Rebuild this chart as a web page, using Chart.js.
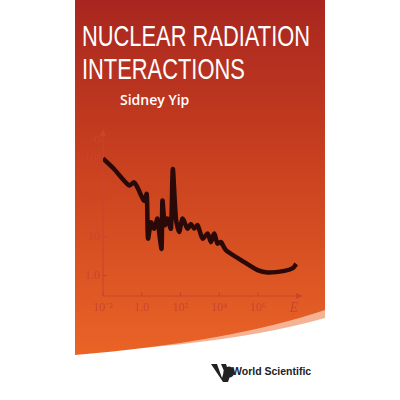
<!DOCTYPE html>
<html>
<head>
<meta charset="utf-8">
<script src="https://cdn.jsdelivr.net/npm/chart.js@4.4.1/dist/chart.umd.min.js"></script>
<style>
  html, body { margin: 0; padding: 0; background: #fff; }
  #page { position: relative; width: 400px; height: 400px; overflow: hidden; }
  #bg { position: absolute; left: 0; top: 0; }
  .t { position: absolute; color: #fff; white-space: nowrap; }
  #t1, #t2 { font-family: 'Liberation Sans', sans-serif; font-size: 29px; transform-origin: 0 0; }
  #t1 { left: 82px; top: 20px; }
  #t2 { left: 82px; top: 53px; }
  #author { left: 120px; top: 90px; font-family: 'Open Sans', sans-serif; font-weight: 600; font-size: 14px; }
  #ws { left: 232px; top: 365px; color: #222; font-family: 'Liberation Sans', sans-serif; font-weight: bold; font-size: 10.5px; }
  #c { position: absolute; left: 0; top: 0; }
</style>
</head>
<body>
<div id="page">
  <svg id="bg" width="400" height="400">
    <defs>
      <linearGradient id="g" x1="0" y1="0" x2="0" y2="1">
        <stop offset="0" stop-color="#a8261f"/>
        <stop offset="0.45" stop-color="#c8401f"/>
        <stop offset="1" stop-color="#ea6427"/>
      </linearGradient>
    </defs>
    <path d="M75,0 H325 V318 Q230,345 75,352 Z" fill="#f4b394"/>
    <path d="M75,0 H325 V310 Q230,342 75,355 Z" fill="url(#g)"/>
    <g transform="translate(211,362)" fill="#222">
      <path d="M0,2 L6,2 L11,16 L13,9 L10,2 L15,2 L19,14 L17,20 L12,20 Z"/>
      <circle cx="18" cy="10" r="5.5"/>
    </g>
  </svg>
  <div class="t" id="t1">NUCLEAR RADIATION</div>
  <div class="t" id="t2">INTERACTIONS</div>
  <div class="t" id="author">Sidney Yip</div>
  <div class="t" id="ws">World Scientific</div>
  <canvas id="c" width="400" height="400"></canvas>
</div>
<script>
// energy (E) and cross section (sigma)
const energy = [0.01, 0.037, 0.22, 0.40, 0.60, 1.3, 1.8, 2.1, 3.0, 4.4, 6.5, 7.9, 10.5, 11.7, 15.5, 21, 32, 40, 58, 85,
  126, 229, 339, 513, 759, 1380, 2510, 3720, 5500, 8130, 12300, 21900, 132000, 955000, 3.16e6, 2.29e7, 6.2e7, 9.3e7];
const sigma = [1000, 537, 204, 245, 182, 83, 123, 8.9, 23, 16, 29, 13, 4.9, 83, 19.5, 29, 16, 537, 29, 13,
  29, 16, 21, 16, 19.5, 8.9, 12, 7.2, 12, 6.6, 7.2, 4.5, 2.5, 1.38, 1.2, 1.32, 1.55, 2.0];
const xTicks = [0.01, 1, 100, 1e4, 1e6];
const xLabels = ['10⁻²', '1.0', '10²', '10⁴', '10⁶'];
const yTicks = [1, 10, 100, 1000];
const yLabels = ['1.0', '10', '10²', '10³'];

const axisColor = '#c9452f';

// squeeze the title to the narrow look of the cover
const t1 = document.getElementById('t1'), t2 = document.getElementById('t2');
const k = 228 / t1.getBoundingClientRect().width;
t1.style.transform = t2.style.transform = 'scaleX(' + k + ')';

const axesPlugin = {
    id: 'axes',
    beforeDatasetsDraw: function(chart) {
        const ctx = chart.ctx;
        const xs = chart.scales.x, ys = chart.scales.y;
        const a = chart.chartArea;
        ctx.save();
        ctx.strokeStyle = axisColor;
        ctx.fillStyle = axisColor;
        ctx.lineWidth = 1;
        ctx.beginPath();
        ctx.moveTo(a.left, a.bottom); ctx.lineTo(a.right, a.bottom);
        ctx.moveTo(a.left, a.bottom); ctx.lineTo(a.left, a.top);
        ctx.stroke();
        ctx.beginPath();
        ctx.moveTo(a.right + 4, a.bottom); ctx.lineTo(a.right - 3, a.bottom - 3); ctx.lineTo(a.right - 3, a.bottom + 3);
        ctx.closePath(); ctx.fill();
        ctx.beginPath();
        ctx.moveTo(a.left, a.top - 4); ctx.lineTo(a.left - 3, a.top + 3); ctx.lineTo(a.left + 3, a.top + 3);
        ctx.closePath(); ctx.fill();
        ctx.font = "12px 'Liberation Serif', serif";
        ctx.textAlign = 'center';
        ctx.textBaseline = 'top';
        xTicks.forEach((v, i) => {
            const px = xs.getPixelForValue(v);
            ctx.beginPath(); ctx.moveTo(px, a.bottom); ctx.lineTo(px, a.bottom - 4); ctx.stroke();
            ctx.fillText(xLabels[i], px, a.bottom + 6);
        });
        ctx.font = "italic 14px 'Liberation Serif', serif";
        ctx.fillText('E', a.right - 5, a.bottom + 5);
        ctx.font = "12px 'Liberation Serif', serif";
        ctx.textAlign = 'right';
        ctx.textBaseline = 'middle';
        yTicks.forEach((v, i) => {
            const py = ys.getPixelForValue(v);
            ctx.beginPath(); ctx.moveTo(a.left, py); ctx.lineTo(a.left + 4, py); ctx.stroke();
            ctx.fillText(yLabels[i], a.left - 3, py);
        });
        ctx.font = "14px 'Liberation Serif', serif";
        ctx.fillText('σ', a.left - 2, a.top + 6);
        ctx.restore();
    }
};

new Chart(document.getElementById('c'), {
    type: 'line',
    data: {
        datasets: [{
            data: energy.map((e, i) => ({ x: e, y: sigma[i] })),
            borderColor: '#2a0a08',
            borderWidth: 4.5,
            pointRadius: 0,
            tension: 0.25
        }]
    },
    options: {
        responsive: false,
        animation: false,
        layout: { padding: { left: 103, right: 101, top: 133, bottom: 104 } },
        plugins: { legend: { display: false }, tooltip: { enabled: false } },
        scales: {
            x: { type: 'logarithmic', min: 0.01, max: 1.3e8, display: false },
            y: { type: 'logarithmic', min: 0.34, max: 4500, display: false }
        }
    },
    plugins: [axesPlugin]
});
</script>
</body>
</html>
